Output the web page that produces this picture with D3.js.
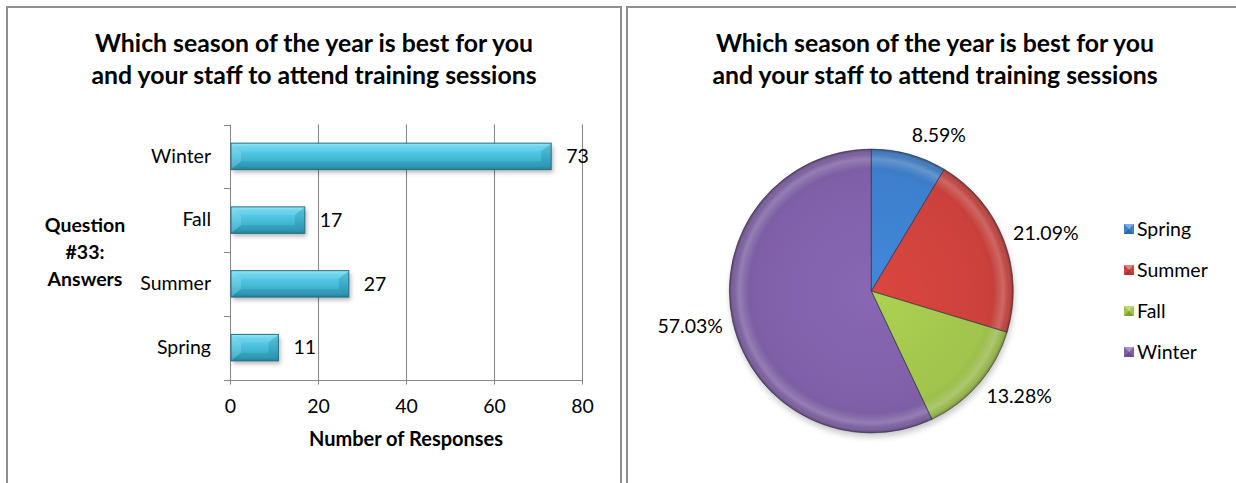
<!DOCTYPE html>
<html>
<head>
<meta charset="utf-8">
<script src="https://cdn.jsdelivr.net/npm/d3@7"></script>
<style>
  html, body { margin: 0; padding: 0; background: #ffffff; }
  svg { display: block; }
</style>
</head>
<body>
<svg id="chart" width="1236" height="483"></svg>
<script>
// ---- data ----
const seasons = ["Spring", "Summer", "Fall", "Winter"];
const responses = [11, 27, 17, 73];
const xTicks = [0, 20, 40, 60, 80];
const titleLines = ["Which season of the year is best for you", "and your staff to attend training sessions"];
const yAxisTitle = ["Question", "#33:", "Answers"];
const xAxisTitle = "Number of Responses";
const seasonColors = ["#3d7fcc", "#cc413c", "#a0c44c", "#7f60a8"];

// ---- shared styling ----
const FONT = "Lato, 'Open Sans', sans-serif";
const titleSize = 24.8;
const bodySize = 19.5;
const gridColor = "#8a8a8a";
const frameColor = "#8f8f8f";

const svg = d3.select("#chart").style("font-family", FONT);
const defs = svg.append("defs");

// soft drop shadow used by bars
const shadow = defs.append("filter").attr("id", "barShadow")
  .attr("x", "-10%").attr("y", "-30%").attr("width", "130%").attr("height", "180%");
shadow.append("feDropShadow").attr("dx", 2).attr("dy", 3).attr("stdDeviation", 2)
  .attr("flood-color", "#000").attr("flood-opacity", 0.28);

// blur for the pie shadow
defs.append("filter").attr("id", "pieBlur")
  .attr("x", "-20%").attr("y", "-20%").attr("width", "140%").attr("height", "140%")
  .append("feGaussianBlur").attr("stdDeviation", 3);

// cyan bevelled bar fill
const barGrad = defs.append("linearGradient").attr("id", "barGrad")
  .attr("x1", 0).attr("y1", 0).attr("x2", 0).attr("y2", 1);
[[0, "#8fe6f8"], [0.14, "#62d2eb"], [0.5, "#47bfdc"], [0.86, "#36a6c2"], [1, "#2a8aa3"]]
  .forEach(([o, c]) => barGrad.append("stop").attr("offset", o).attr("stop-color", c));

// ---- panel frames ----
svg.append("rect").attr("x", 7).attr("y", 7).attr("width", 614).attr("height", 540)
  .attr("fill", "none").attr("stroke", frameColor).attr("stroke-width", 2);
svg.append("rect").attr("x", 627).attr("y", 7).attr("width", 660).attr("height", 540)
  .attr("fill", "none").attr("stroke", frameColor).attr("stroke-width", 2);

function drawTitle(g, cx) {
  g.selectAll("text.title").data(titleLines).join("text")
    .attr("class", "title")
    .attr("x", cx).attr("y", (d, i) => 51.5 + i * 32)
    .attr("text-anchor", "middle")
    .attr("font-size", titleSize).attr("font-weight", "bold").attr("fill", "#000")
    .text(d => d);
}

// ================= bar chart =================
const bar = svg.append("g");
drawTitle(bar, 314);

const plotTop = 124.5, plotBottom = 379.5;
const x = d3.scaleLinear().domain([0, 80]).range([230, 582]);
const y = d3.scaleBand().domain(seasons.slice().reverse()).range([plotTop, plotBottom]);
const crisp = v => Math.round(v) + 0.5;

// vertical gridlines (with the small tick below the axis)
bar.append("g").selectAll("line").data(xTicks).join("line")
  .attr("x1", d => crisp(x(d))).attr("x2", d => crisp(x(d)))
  .attr("y1", plotTop).attr("y2", plotBottom + 5)
  .attr("stroke", gridColor).attr("stroke-width", 1.1);

// horizontal axis line
bar.append("line")
  .attr("x1", x(0) - 6).attr("x2", crisp(x(80)))
  .attr("y1", crisp(plotBottom)).attr("y2", crisp(plotBottom))
  .attr("stroke", gridColor).attr("stroke-width", 1.1);

// category boundary ticks on the vertical axis
const boundaries = y.domain().map(d => y(d)).concat([plotBottom]);
bar.append("g").selectAll("line").data(boundaries).join("line")
  .attr("x1", x(0) - 6).attr("x2", crisp(x(0)))
  .attr("y1", d => crisp(d)).attr("y2", d => crisp(d))
  .attr("stroke", gridColor).attr("stroke-width", 1.1);

// value axis labels
const xAxis = bar.append("g").attr("transform", `translate(0,${plotBottom})`)
  .call(d3.axisBottom(x).tickValues(xTicks).tickSize(0).tickPadding(20));
xAxis.select(".domain").remove();
xAxis.selectAll("text").attr("font-family", FONT).attr("font-size", bodySize).attr("fill", "#000");

// category labels
const yAxis = bar.append("g").attr("transform", `translate(${x(0)},0)`)
  .call(d3.axisLeft(y).tickSize(0).tickPadding(19));
yAxis.select(".domain").remove();
yAxis.selectAll("text").attr("font-family", FONT).attr("font-size", bodySize).attr("fill", "#000");

// axis titles
bar.append("g").selectAll("text").data(yAxisTitle).join("text")
  .attr("x", 85).attr("y", (d, i) => 232 + i * 27)
  .attr("text-anchor", "middle").attr("font-size", bodySize).attr("font-weight", "bold")
  .text(d => d);
bar.append("text")
  .attr("x", (x(0) + x(80)) / 2).attr("y", 446)
  .attr("text-anchor", "middle").attr("font-size", 20).attr("font-weight", "bold")
  .text(xAxisTitle);

// bevelled bars
const barH = y.bandwidth() * 0.415;
const bx = 10, by = 8;
const bars = bar.append("g").selectAll("g").data(seasons.map((s, i) => ({ s, v: responses[i] })))
  .join("g");
bars.each(function (d) {
  const g = d3.select(this);
  const x0 = x(0) + 1, x1 = x(d.v);
  const yc = y(d.s) + y.bandwidth() / 2;
  const y0 = yc - barH / 2, y1 = yc + barH / 2;
  g.append("rect").attr("x", x0).attr("y", y0).attr("width", x1 - x0).attr("height", barH)
    .attr("fill", "url(#barGrad)").attr("filter", "url(#barShadow)");
  // left facet (lit) and right facet (shaded)
  g.append("polygon")
    .attr("points", [[x0, y0], [x0 + bx, y0 + by], [x0 + bx, y1 - by], [x0, y1]].join(" "))
    .attr("fill", "#ffffff").attr("opacity", 0.14);
  g.append("polygon")
    .attr("points", [[x1, y0], [x1 - bx, y0 + by], [x1 - bx, y1 - by], [x1, y1]].join(" "))
    .attr("fill", "#00303c").attr("opacity", 0.13);
  // top highlight and bottom shade strips
  g.append("polygon")
    .attr("points", [[x0, y0], [x1, y0], [x1 - bx, y0 + by], [x0 + bx, y0 + by]].join(" "))
    .attr("fill", "#ffffff").attr("opacity", 0.08);
  g.append("polygon")
    .attr("points", [[x0, y1], [x1, y1], [x1 - bx, y1 - by], [x0 + bx, y1 - by]].join(" "))
    .attr("fill", "#003040").attr("opacity", 0.1);
  g.append("rect").attr("x", x0).attr("y", y0).attr("width", x1 - x0).attr("height", barH)
    .attr("fill", "none").attr("stroke", "#226f82").attr("stroke-width", 1);
  g.append("text")
    .attr("x", x1 + 15).attr("y", yc).attr("dy", "0.35em")
    .attr("font-size", bodySize).attr("fill", "#000")
    .text(d.v);
});

// ================= pie chart =================
const pieG = svg.append("g");
drawTitle(pieG, 935);

const cx = 871.3, cy = 291, R = 142;
const total = d3.sum(responses);
const pct = d3.format(".2%");
const arcs = d3.pie().sort(null).value(d => d)(responses);
const arc = d3.arc().innerRadius(0).outerRadius(R);

// per-slice radial shading (coordinates relative to the pie centre)
seasonColors.forEach((c, i) => {
  const g = defs.append("radialGradient").attr("id", "slice" + i)
    .attr("gradientUnits", "userSpaceOnUse")
    .attr("cx", 0).attr("cy", 0).attr("r", R);
  const base = d3.color(c);
  [[0, base.brighter(0.2)], [0.82, base], [1, base.darker(0.3)]]
    .forEach(([o, col]) => g.append("stop").attr("offset", o).attr("stop-color", col.formatHex()));
});
// bevel rim
const rim = defs.append("radialGradient").attr("id", "rim")
  .attr("gradientUnits", "userSpaceOnUse").attr("cx", 0).attr("cy", 0).attr("r", R);
[[0.86, "#fff", 0], [0.93, "#fff", 0.22], [0.965, "#fff", 0.06], [1, "#000", 0.3]]
  .forEach(([o, c, a]) => rim.append("stop").attr("offset", o).attr("stop-color", c).attr("stop-opacity", a));

pieG.append("circle").attr("cx", cx + 1).attr("cy", cy + 4).attr("r", R)
  .attr("fill", "#000").attr("opacity", 0.22).attr("filter", "url(#pieBlur)");

const slices = pieG.append("g").attr("transform", `translate(${cx},${cy})`);
slices.selectAll("path.slice").data(arcs).join("path")
  .attr("class", "slice")
  .attr("d", arc)
  .attr("fill", (d, i) => `url(#slice${i})`);
slices.append("circle").attr("r", R).attr("fill", "url(#rim)");
slices.selectAll("path.edge").data(arcs).join("path")
  .attr("class", "edge")
  .attr("d", arc)
  .attr("fill", "none").attr("stroke", "#2b2b3a").attr("stroke-opacity", 0.55).attr("stroke-width", 0.9);

// percentage labels just outside each slice, anchored away from the pie
const labelGap = 10;
pieG.append("g").selectAll("text").data(arcs).join("text")
  .attr("font-size", bodySize).attr("fill", "#000")
  .text(d => pct(d.value / total))
  .each(function (d) {
    const a = (d.startAngle + d.endAngle) / 2;
    const s = Math.sin(a), c = -Math.cos(a);
    const px = cx + (R + labelGap) * s, py = cy + (R + labelGap) * c;
    d3.select(this)
      .attr("text-anchor", s > 0.1 ? "start" : s < -0.1 ? "end" : "middle")
      .attr("x", px)
      .attr("y", py + c * bodySize / 2)
      .attr("dy", "0.35em");
  });

// legend
const legend = pieG.append("g").attr("transform", "translate(1124,224)");
const items = legend.selectAll("g").data(seasons).join("g")
  .attr("transform", (d, i) => `translate(0,${i * 41})`);
items.append("rect").attr("width", 10).attr("height", 10)
  .attr("fill", (d, i) => seasonColors[i]);
items.append("polygon").attr("points", "0,0 10,0 5,5").attr("fill", "#fff").attr("opacity", 0.35);
items.append("polygon").attr("points", "0,10 10,10 5,5").attr("fill", "#000").attr("opacity", 0.18);
items.append("text").attr("x", 13).attr("y", 5).attr("dy", "0.35em")
  .attr("font-size", bodySize).attr("fill", "#000")
  .text(d => d);
</script>
</body>
</html>
